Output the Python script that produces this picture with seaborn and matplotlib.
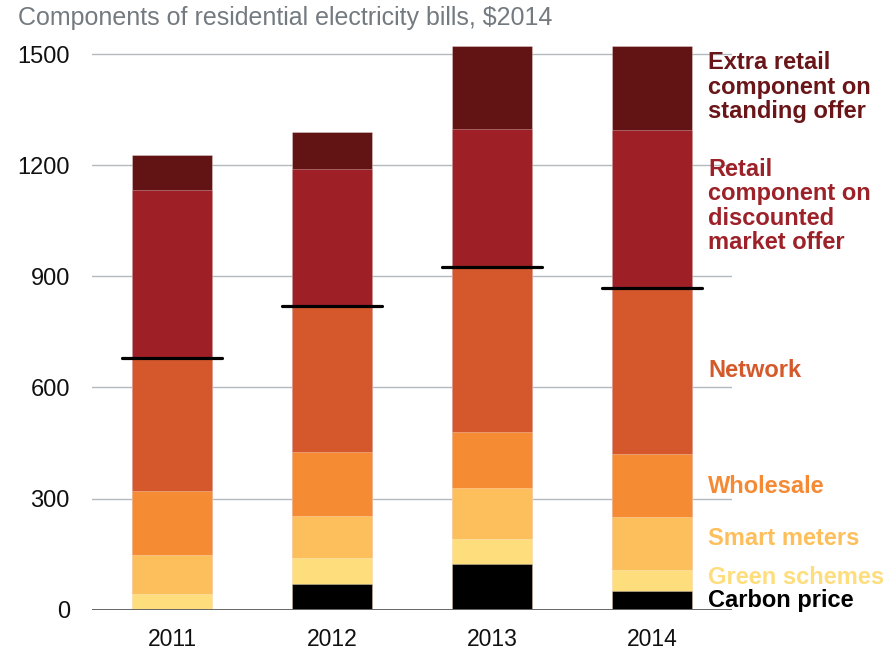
import numpy as np
import pandas as pd
import matplotlib
matplotlib.use("Agg")
import matplotlib.pyplot as plt
import seaborn as sns

# Components of residential electricity bills, $2014
years = ["2011", "2012", "2013", "2014"]
carbon_price = [0, 70, 123, 51]
green_schemes = [43, 68, 68, 57]
smart_meters = [105, 116, 137, 143]
wholesale = [173, 172, 151, 170]
network = [359, 395, 447, 448]
retail_discounted = [453, 370, 373, 426]
extra_retail_standing = [94, 98, 222, 228]

component_names = [
    "Carbon price",
    "Green schemes",
    "Smart meters",
    "Wholesale",
    "Network",
    "Retail\ncomponent on\ndiscounted\nmarket offer",
    "Extra retail\ncomponent on\nstanding offer",
]
component_values = [carbon_price, green_schemes, smart_meters, wholesale,
                    network, retail_discounted, extra_retail_standing]
bar_colors = ["#000000", "#fede7c", "#fdbf5b", "#f58b33",
              "#d4582b", "#9e2026", "#621414"]
label_colors = ["#000000", "#fedd7d", "#fdbf5b", "#f58a35",
                "#d45a2c", "#9c2128", "#6a1518"]
# vertical nudges for the crowded labels at the foot of the stack
label_nudge = [0, 8, 13, -3, 0, 8, 2]

sns.set_theme(style="white")
plt.rcParams["font.family"] = ["Liberation Sans", "DejaVu Sans"]

fig = plt.figure(figsize=(8.94, 6.49), dpi=100)
ax = fig.add_axes([92 / 894, 39.4 / 649, 640 / 894, 570.3 / 649])

df = pd.DataFrame({"year": years})
cum = np.cumsum(np.array(component_values, dtype=float), axis=0)

# stacked bars: draw cumulative totals from the tallest layer down
for i in range(len(component_values) - 1, -1, -1):
    df["total"] = cum[i]
    sns.barplot(data=df, x="year", y="total", color=bar_colors[i],
                saturation=1, width=0.5, edgecolor=(1, 1, 1, 0.35),
                linewidth=0.6, ax=ax, zorder=2)

# network-cost level marker across each bar
xpos = np.arange(len(years))
ax.hlines(cum[4], xpos - 0.31, xpos + 0.31, colors="black",
          linewidth=2.3, zorder=5, capstyle="round")

ax.set_xlim(-0.5, len(years) - 0.5)
ax.set_ylim(0, 1540)
ax.set_yticks([0, 300, 600, 900, 1200, 1500])
for y in [300, 600, 900, 1200, 1500]:
    ax.axhline(y, color="#b4b9bd", linewidth=1.0, zorder=0)
ax.axhline(0, color="#666666", linewidth=1.4, zorder=6)

for s in ax.spines.values():
    s.set_visible(False)
ax.tick_params(axis="y", length=0, pad=16, labelsize=17, labelcolor="#111111")
ax.tick_params(axis="x", length=0, pad=13, labelsize=16.5, labelcolor="#111111")
ax.set_xlabel("")
ax.set_ylabel("")

# labels to the right of the last bar, at the middle of each segment
last = len(years) - 1
for i, name in enumerate(component_names):
    bottom = cum[i - 1][last] if i > 0 else 0.0
    mid = (bottom + cum[i][last]) / 2 + label_nudge[i]
    ax.text(3.35, mid, name, color=label_colors[i], fontsize=17,
            fontweight="bold", ha="left", va="center", linespacing=1.08,
            clip_on=False)

fig.text(18 / 894, 1 - 18 / 649, "Components of residential electricity bills, $2014",
         color="#737a80", fontsize=18, ha="left", va="center")

fig.savefig("out.png", dpi=100)
